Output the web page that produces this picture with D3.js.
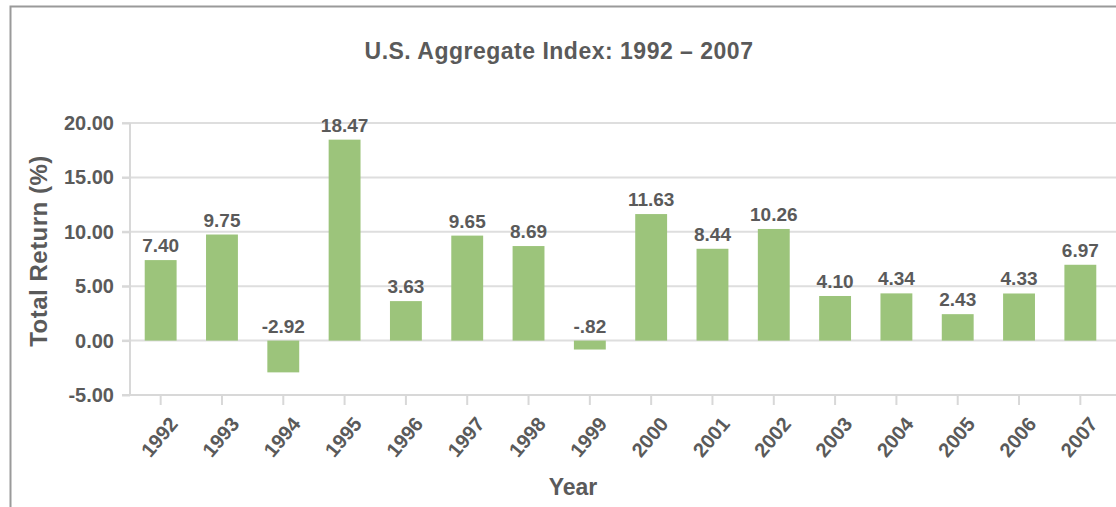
<!DOCTYPE html>
<html>
<head>
  <meta charset="utf-8">
  <title>U.S. Aggregate Index</title>
  <script src="https://d3js.org/d3.v7.min.js"></script>
  <style>
    body { margin: 0; background: #fff; }
    text { font-family: "Liberation Sans", Arial, sans-serif; fill: #5a5a5a; }
    .grid line { stroke: #dedede; stroke-width: 2px; }
    .axis path, .axis line { stroke: #d8d8d8; stroke-width: 2px; }
  </style>
</head>
<body>
  <svg width="1116" height="507"></svg>
  <script>
    const years = ["1992","1993","1994","1995","1996","1997","1998","1999",
                   "2000","2001","2002","2003","2004","2005","2006","2007"]
    const returns = [7.40, 9.75, -2.92, 18.47, 3.63, 9.65, 8.69, -0.82,
                     11.63, 8.44, 10.26, 4.10, 4.34, 2.43, 4.33, 6.97]
    const labels = ["7.40","9.75","-2.92","18.47","3.63","9.65","8.69","-.82",
                    "11.63","8.44","10.26","4.10","4.34","2.43","4.33","6.97"]
    const yTicks = [-5, 0, 5, 10, 15, 20]

    const svg = d3.select("svg")
    const plotLeft = 130, plotRight = 1111, plotTop = 123, plotBottom = 395

    // frame
    svg.append("path")
      .attr("d", "M10.5,507 V6.5 H1116")
      .attr("fill", "none")
      .attr("stroke", "#9a9a9a")
      .attr("stroke-width", 2)

    const x = d3.scaleBand().domain(years).range([plotLeft, plotRight]).paddingInner(0.48).paddingOuter(0.24)
    const y = d3.scaleLinear().domain([-5, 20]).range([plotBottom, plotTop])

    // gridlines
    svg.append("g").attr("class", "grid")
      .selectAll("line").data(yTicks.filter(d => d > -5)).enter().append("line")
      .attr("x1", 122).attr("x2", 1116)
      .attr("y1", d => y(d)).attr("y2", d => y(d))

    // y axis
    const yAxis = svg.append("g").attr("class", "axis")
      .attr("transform", `translate(${plotLeft},0)`)
      .call(d3.axisLeft(y).tickValues(yTicks).tickFormat(d => d.toFixed(2)).tickSize(8).tickSizeOuter(0))
    yAxis.select(".domain").attr("d", `M0,${plotTop}V${plotBottom}`)
    yAxis.selectAll("text").attr("x", -16).style("font-size", "20px").style("font-weight", "bold")

    // x axis
    const xAxis = svg.append("g").attr("class", "axis")
      .attr("transform", `translate(0,${plotBottom})`)
      .call(d3.axisBottom(x).tickSize(10).tickSizeOuter(0))
    xAxis.select(".domain").attr("d", `M122,0H1116`)
    xAxis.selectAll("text")
      .style("font-size", "20px").style("font-weight", "bold")
      .style("text-anchor", "end")
      .attr("dy", "0.35em")
      .attr("transform", "translate(13,25) rotate(-50)")
      .attr("y", 0).attr("x", 0)

    // bars
    svg.append("g").selectAll("rect").data(returns).enter().append("rect")
      .attr("x", (d, i) => x(years[i]))
      .attr("width", x.bandwidth())
      .attr("y", d => y(Math.max(d, 0)))
      .attr("height", d => Math.abs(y(d) - y(0)))
      .attr("fill", "#9cc47b")

    // value labels
    svg.append("g").selectAll("text").data(returns).enter().append("text")
      .attr("x", (d, i) => x(years[i]) + x.bandwidth() / 2)
      .attr("y", d => y(Math.max(d, 0)) - 8)
      .attr("text-anchor", "middle")
      .style("font-size", "19px").style("font-weight", "bold")
      .text((d, i) => labels[i])

    // title
    svg.append("text")
      .attr("x", 559).attr("y", 59)
      .attr("text-anchor", "middle")
      .style("font-size", "23px").style("font-weight", "bold")
      .style("letter-spacing", "0.5px")
      .text("U.S. Aggregate Index: 1992 \u2013 2007")

    // axis titles
    svg.append("text")
      .attr("transform", "translate(47,251) rotate(-90)")
      .attr("text-anchor", "middle")
      .style("font-size", "24px").style("font-weight", "bold")
      .style("letter-spacing", "0.5px")
      .text("Total Return (%)")

    svg.append("text")
      .attr("x", 573).attr("y", 495)
      .attr("text-anchor", "middle")
      .style("font-size", "23px").style("font-weight", "bold")
      .text("Year")
  </script>
</body>
</html>
